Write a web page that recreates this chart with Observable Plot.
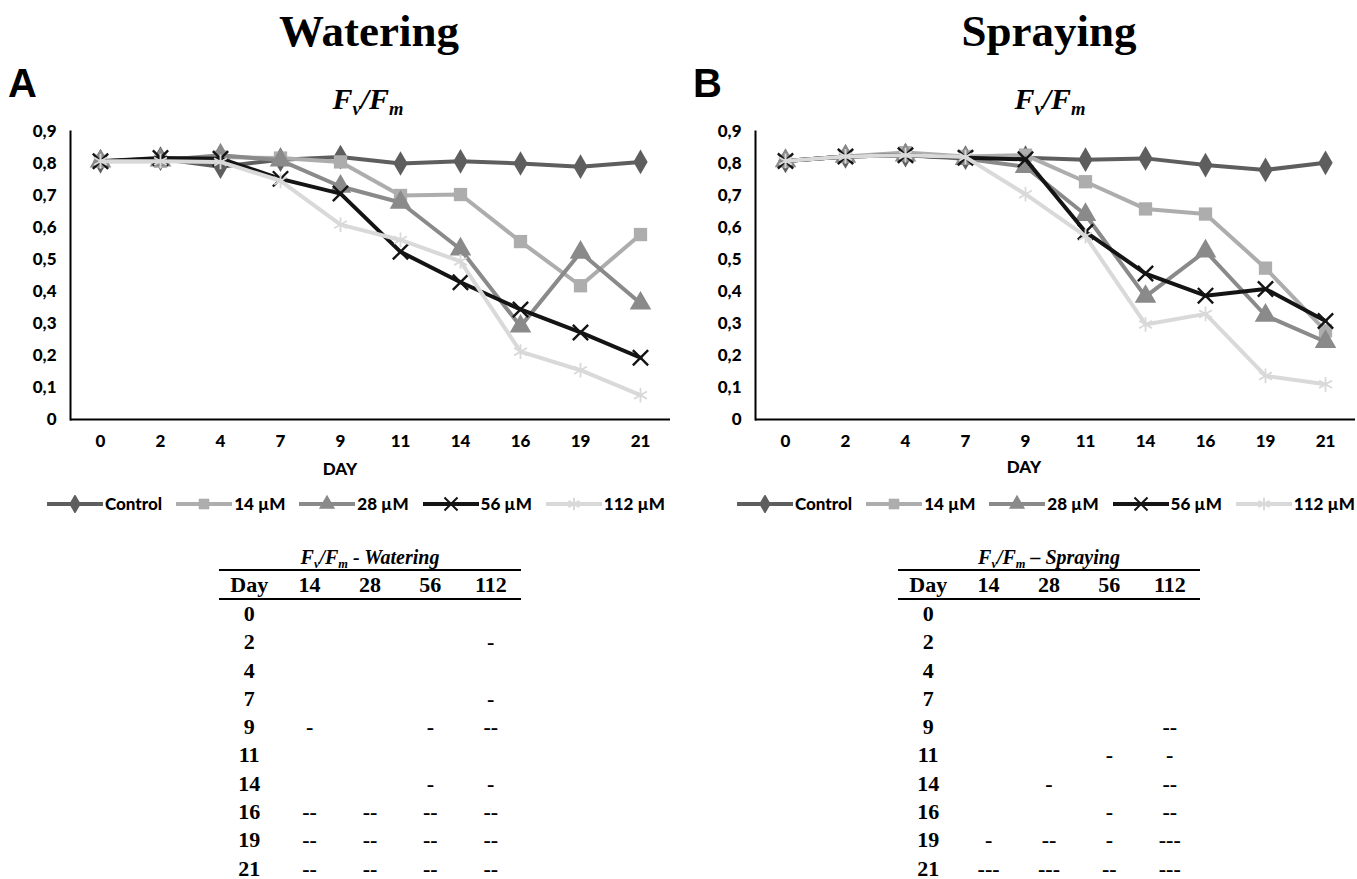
<!DOCTYPE html>
<html><head><meta charset="utf-8">
<script src="https://cdn.jsdelivr.net/npm/d3@7"></script>
<script src="https://cdn.jsdelivr.net/npm/@observablehq/plot@0.6"></script>
<style>
html,body{margin:0;padding:0;background:#fff;}
body{width:1357px;height:879px;position:relative;overflow:hidden;font-family:Lato,"Open Sans",sans-serif;color:#000}
.abs{position:absolute}
.title{font-family:"Liberation Serif",serif;font-weight:bold;font-size:45px;line-height:1;transform:translateX(-50%);white-space:nowrap}
.letter{font-family:"Liberation Sans",Arial,sans-serif;font-weight:bold;font-size:40px;line-height:1}
.fvfm{font-family:"Liberation Serif",serif;font-weight:bold;font-style:italic;font-size:30px;line-height:1;transform:translateX(-50%);white-space:nowrap}
.fvfm sub,.ttitle sub{font-size:0.62em;vertical-align:-0.3em;line-height:0}
.chart svg text{font-weight:900}
.daylab{font-weight:900;font-size:17px;line-height:1;transform:translateX(-50%)}
.legend{display:flex;align-items:center;font-weight:900;font-size:17px;white-space:nowrap}
.legend .item{display:flex;align-items:center;margin-right:14px}
.legend .item svg{margin-right:2px}
.tbl{font-family:"Liberation Serif",serif;font-weight:bold;font-size:22px}
.ttitle{height:22px;line-height:20px;text-align:center;font-style:italic;font-size:20px;border-bottom:2px solid #000;white-space:nowrap}
.tbl table{border-collapse:collapse;width:100%;table-layout:fixed}
.tbl th{height:27px;padding:0;line-height:27px;border-bottom:2px solid #000;font-weight:bold}
.tbl td{height:28.3px;padding:0;line-height:28.3px;text-align:center}
</style>
</head><body>
<div class="abs title" style="left:369px;top:9px">Watering</div>
<div class="abs title" style="left:1049px;top:9px">Spraying</div>
<div class="abs letter" style="left:8px;top:63px">A</div>
<div class="abs letter" style="left:693px;top:63px">B</div>
<div class="abs fvfm" style="left:368px;top:84px">F<sub>v</sub>/F<sub>m</sub></div>
<div class="abs fvfm" style="left:1050px;top:84px">F<sub>v</sub>/F<sub>m</sub></div>
<div id="chartA" class="abs chart" style="left:0px;top:110px"></div>
<div id="chartB" class="abs chart" style="left:685px;top:110px"></div>
<div class="abs daylab" style="left:340px;top:460px">DAY</div>
<div class="abs daylab" style="left:1024px;top:458px">DAY</div>
<div id="legendA" class="abs legend" style="left:47px;top:493px"></div>
<div id="legendB" class="abs legend" style="left:737px;top:493px"></div>
<div id="tableA" class="abs tbl" style="left:219px;top:547px;width:302px"></div>
<div id="tableB" class="abs tbl" style="left:898px;top:547px;width:302px"></div>
<script>
// ---- data ----
const days = ["0","2","4","7","9","11","14","16","19","21"];
const seriesNames = ["Control","14 µM","28 µM","56 µM","112 µM"];
const seriesColors = ["#5e5e5e","#adadad","#8a8a8a","#141414","#d9d9d9"];
const seriesSymbols = ["diamond","square","triangle","times","asterisk"];
const yTicks = [0,0.1,0.2,0.3,0.4,0.5,0.6,0.7,0.8,0.9];

// Watering (A)
const wateringControl = [0.807,0.815,0.790,0.812,0.820,0.800,0.807,0.800,0.790,0.805];
const watering14 = [0.807,0.807,0.820,0.817,0.805,0.700,0.703,0.556,0.418,0.578];
const watering28 = [0.807,0.810,0.826,0.810,0.728,0.678,0.532,0.291,0.522,0.363];
const watering56 = [0.807,0.817,0.815,0.752,0.706,0.524,0.429,0.344,0.272,0.193];
const watering112 = [0.807,0.807,0.805,0.746,0.609,0.561,0.494,0.212,0.154,0.076];

// Spraying (B)
const sprayingControl = [0.808,0.822,0.826,0.818,0.818,0.812,0.816,0.795,0.780,0.802];
const spraying14 = [0.808,0.822,0.834,0.822,0.826,0.743,0.658,0.642,0.473,0.277];
const spraying28 = [0.808,0.822,0.826,0.815,0.790,0.640,0.384,0.526,0.325,0.243];
const spraying56 = [0.808,0.822,0.826,0.818,0.813,0.586,0.456,0.387,0.408,0.308];
const spraying112 = [0.808,0.822,0.826,0.820,0.704,0.573,0.297,0.330,0.136,0.110];

// Tables
const tableDays = ["0","2","4","7","9","11","14","16","19","21"];
const tableDoses = ["14","28","56","112"];
const wateringSig = [
  ["","","",""],["","","","-"],["","","",""],["","","","-"],["-","","-","--"],
  ["","","",""],["","","-","-"],["--","--","--","--"],["--","--","--","--"],["--","--","--","--"]
];
const sprayingSig = [
  ["","","",""],["","","",""],["","","",""],["","","",""],["","","","--"],
  ["","","-","-"],["","-","","--"],["","","-","--"],["-","--","-","---"],["---","---","--","---"]
];

// ---- chart ----
function makeChart(seriesValues, width, marginRight) {
  const data = [];
  seriesNames.forEach((name, i) => seriesValues[i].forEach((v, j) => data.push({day: days[j], value: v, series: name})));
  const marks = [
    Plot.axisY({ticks: yTicks, tickSize: 0, tickPadding: 14, fontSize: 17,
      tickFormat: d => d === 0 ? "0" : d.toFixed(1).replace(".", ",")}),
    Plot.axisX({tickSize: 0, tickPadding: 15, fontSize: 17}),
    Plot.ruleY([0], {stroke: "#000", strokeWidth: 2}),
    Plot.frame({anchor: "left", stroke: "#000", strokeWidth: 2})
  ];
  seriesNames.forEach((name, i) => {
    const d = data.filter(r => r.series === name);
    marks.push(Plot.line(d, {x: "day", y: "value", stroke: seriesColors[i], strokeWidth: 4}));
    const sym = seriesSymbols[i];
    if (sym === "times" || sym === "asterisk") {
      marks.push(Plot.dot(d, {x: "day", y: "value", symbol: sym, r: 7, stroke: seriesColors[i], strokeWidth: sym === "times" ? 2.4 : 1.8}));
    } else {
      marks.push(Plot.dot(d, {x: "day", y: "value", symbol: sym, r: sym === "triangle" ? 8 : 7.5, fill: seriesColors[i]}));
    }
  });
  return Plot.plot({
    width, height: 369, marginLeft: 70, marginRight, marginTop: 21, marginBottom: 60,
    style: {fontFamily: "Lato, 'Open Sans', sans-serif", fontSize: "17px", background: "transparent", color: "#000"},
    x: {type: "point", domain: days, padding: 0.5, label: null},
    y: {domain: [0, 0.9], label: null},
    marks
  });
}

document.getElementById("chartA").append(makeChart([wateringControl, watering14, watering28, watering56, watering112], 680, 10));
document.getElementById("chartB").append(makeChart([sprayingControl, spraying14, spraying28, spraying56, spraying112], 672, 2));

// ---- legends ----
const d3Sym = {diamond: d3.symbolDiamond, square: d3.symbolSquare, triangle: d3.symbolTriangle, times: d3.symbolTimes, asterisk: d3.symbolAsterisk};
function makeLegend(el) {
  seriesNames.forEach((name, i) => {
    const item = document.createElement("div");
    item.className = "item";
    const svg = d3.create("svg").attr("width", 56).attr("height", 18);
    svg.append("line").attr("x1", 0).attr("x2", 56).attr("y1", 9).attr("y2", 9)
      .attr("stroke", seriesColors[i]).attr("stroke-width", 4);
    const sym = seriesSymbols[i];
    const stroked = sym === "times" || sym === "asterisk";
    svg.append("path").attr("transform", "translate(28,9)")
      .attr("d", d3.symbol(d3Sym[sym], Math.PI * 36)())
      .attr("fill", stroked ? "none" : seriesColors[i])
      .attr("stroke", stroked ? seriesColors[i] : "none")
      .attr("stroke-width", stroked ? 2 : 0);
    item.append(svg.node());
    const t = document.createElement("span");
    t.textContent = name;
    item.append(t);
    el.append(item);
  });
}
makeLegend(document.getElementById("legendA"));
makeLegend(document.getElementById("legendB"));

// ---- tables ----
function makeTable(el, titleHtml, sig) {
  const title = document.createElement("div");
  title.className = "ttitle";
  title.innerHTML = titleHtml;
  el.append(title);
  const table = document.createElement("table");
  const head = table.insertRow();
  ["Day", ...tableDoses].forEach(h => {
    const th = document.createElement("th");
    th.textContent = h;
    head.append(th);
  });
  tableDays.forEach((d, i) => {
    const row = table.insertRow();
    [d, ...sig[i]].forEach(v => { row.insertCell().textContent = v; });
  });
  el.append(table);
}
makeTable(document.getElementById("tableA"), "F<sub>v</sub>/F<sub>m</sub> - Watering", wateringSig);
makeTable(document.getElementById("tableB"), "F<sub>v</sub>/F<sub>m</sub> – Spraying", sprayingSig);
</script>
</body></html>
